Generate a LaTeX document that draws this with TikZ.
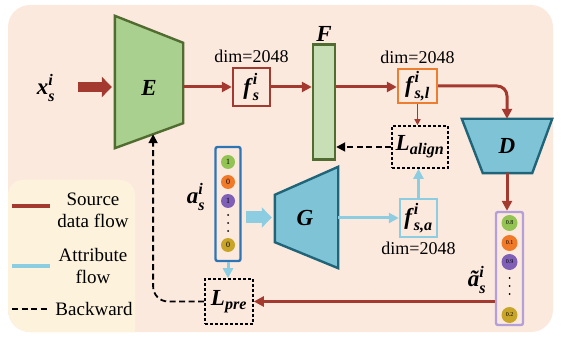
\documentclass[tikz,border=0pt]{standalone}
\usepackage{fontspec}
\setmainfont{Liberation Serif}
\usepackage{amsmath}
\usetikzlibrary{arrows.meta,calc}

\definecolor{srcred}{RGB}{163,57,47}
\definecolor{attblue}{RGB}{140,205,226}
\definecolor{encfill}{RGB}{169,208,142}
\definecolor{encdraw}{RGB}{80,108,48}
\definecolor{ffill}{RGB}{200,222,180}
\definecolor{decfill}{RGB}{126,196,214}
\definecolor{decdraw}{RGB}{31,100,120}
\definecolor{fslorange}{RGB}{237,125,49}
\definecolor{vecblue}{RGB}{46,117,182}
\definecolor{veclila}{RGB}{180,160,216}
\definecolor{bgpeach}{RGB}{252,233,222}
\definecolor{bglegend}{RGB}{253,242,220}
\definecolor{cgreen}{RGB}{146,195,83}
\definecolor{corange}{RGB}{240,122,40}
\definecolor{cpurple}{RGB}{128,96,182}
\definecolor{colive}{RGB}{200,165,40}

\newcommand{\bi}[1]{\textbf{\textit{#1}}}

\begin{document}
\begin{tikzpicture}[x=1pt, y=-1pt,
	big/.style={font=\fontsize{23}{25}\selectfont},
	dimtxt/.style={font=\fontsize{18}{20}\selectfont},
	legtxt/.style={font=\fontsize{19}{22}\selectfont, align=center},
	feat/.style={draw, line width=2.4pt, minimum width=37pt, minimum height=38pt, inner sep=0pt, font=\fontsize{23}{25}\selectfont},
	loss/.style={draw, line width=1.6pt, dash pattern=on 3pt off 2pt, inner sep=0pt, font=\fontsize{23}{25}\selectfont},
	src/.style={draw=srcred, line width=3pt, -{Triangle[length=10pt,width=10pt]}},
	att/.style={draw=attblue, line width=3pt, -{Triangle[length=10pt,width=10pt]}},
	back/.style={draw=black, line width=1.8pt, dash pattern=on 6pt off 3.5pt, -{Triangle[length=9pt,width=9pt]}},
	vec/.style={draw, rounded corners=2pt, line width=2.4pt, inner sep=0pt},
	cir/.style={circle, inner sep=0pt},
	trap/.style={inner sep=0pt}]

	\useasboundingbox (0,0) rectangle (561,344);

	% Fondo y leyenda
	\fill[bgpeach, rounded corners=22pt] (8,5) rectangle (553,332);
	\begin{scope}
		\clip[rounded corners=22pt] (8,5) rectangle (553,332);
		\fill[bglegend, rounded corners=15pt] (8,180) rectangle (135,345);
	\end{scope}

	% Bloques E, F, D, G
	\node[trap, minimum width=68pt, minimum height=132pt] (E) at (149,82) {};
	\draw[encdraw, fill=encfill, line width=2.4pt] (E.north west) -- ([yshift=-27pt]E.north east)
		-- ([yshift=25pt]E.south east) -- (E.south west) -- cycle;
	\node[big] (Elab) at (149,88) {$\bi{E}$};

	\node[draw=encdraw, fill=ffill, line width=2.4pt, minimum width=22pt, minimum height=115pt, inner sep=0pt] (F) at (324,102) {};
	\node[big, above=-2pt] (Flab) at (F.north) {$\bi{F}$};

	\node[trap, minimum width=90pt, minimum height=54pt] (D) at (507,146) {};
	\draw[decdraw, fill=decfill, line width=2.4pt] (D.north west) -- (D.north east)
		-- ([xshift=-20pt]D.south east) -- ([xshift=21pt]D.south west) -- cycle;
	\node[big] (Dlab) at (507,146) {$\bi{D}$};

	\node[trap, minimum width=63pt, minimum height=101pt] (G) at (306.5,217.5) {};
	\draw[decdraw, fill=decfill, line width=2.4pt] ([yshift=-28pt]G.north west) -- (G.north east)
		-- (G.south east) -- ([yshift=26pt]G.south west) -- cycle;
	\node[big] (Glab) at (305,217.5) {$\bi{G}$};

	% Caracteristicas y perdidas
	\node[big] (xs) at (46,88) {$\bi{x}^{\bi{i}}_{\bi{s}}$};
	\coordinate (xin) at (78,87);
	\node[feat, draw=srcred] (fs) at (251.5,87) {$\bi{f}^{\bi{i}}_{\bi{s}}$};
	\node[feat, draw=fslorange, minimum width=39pt, minimum height=34pt] (fsl) at (417.5,86) {$\bi{f}^{\bi{i}}_{\bi{s,l}}$};
	\node[feat, draw=attblue] (fsa) at (418.5,218) {$\bi{f}^{\bi{i}}_{\bi{s,a}}$};
	\node[loss, minimum width=56pt, minimum height=42pt] (Lalign) at (420,147) {$\bi{L}_{\bi{align}}$};
	\node[loss, minimum width=48pt, minimum height=45pt] (Lpre) at (229,301.5) {$\bi{L}_{\bi{pre}}$};

	\node[dimtxt, above=1pt] (dimfs) at (fs.north) {dim=2048};
	\node[dimtxt, above=1pt] (dimfsl) at (fsl.north) {dim=2048};
	\node[dimtxt, below=0pt] (dimfsa) at (fsa.south) {dim=2048};

	% Vectores de atributos
	\node[vec, draw=vecblue, minimum width=25pt, minimum height=114pt] (av) at (228,204) {};
	\foreach \y/\c/\v [count=\k] in {162/cgreen/1, 182/corange/0, 201/cpurple/1, 245/colive/0}
		\node[cir, fill=\c, minimum size=14pt, font=\fontsize{8}{8}\selectfont] (ac\k) at (228,\y) {\v};
	\foreach \y in {215,223,231}
		\fill (228,\y) circle (1pt);
	\node[big] (aslab) at (196,197) {$\bi{a}^{\bi{i}}_{\bi{s}}$};

	\node[vec, draw=veclila, minimum width=27pt, minimum height=113pt] (at) at (509.5,268.5) {};
	\foreach \y/\c/\v [count=\k] in {223/cgreen/0.8, 243/corange/0.1, 262/cpurple/0.9, 315/colive/0.2}
		\node[cir, fill=\c, minimum size=16pt, font=\fontsize{6}{6}\selectfont] (atc\k) at (509.5,\y) {\v};
	\foreach \y in {278,286,294}
		\fill (509.5,\y) circle (1pt);
	\node[big, inner sep=1pt] (atlab) at (477,280) {$\bi{ã}^{\bi{i}}_{\bi{s}}$};

	% Flujo de datos
	\draw[srcred, line width=10pt, -{Triangle[length=10pt,width=20pt]}, shorten >=3pt] (xin) -- (xin -| E.west);
	\draw[src] (E.east |- fs) -- (fs.west);
	\draw[src] (fs.east) -- (fs -| F.west);
	\draw[src] (fs -| F.east) -- (fs -| fsl.west);
	\draw[src, rounded corners=10pt] (fsl.east) -| (D.north);
	\draw[srcred, line width=1.8pt, -{Triangle[length=6pt,width=6pt]}] (fsl.south) -- (fsl.south |- Lalign.north);
	\draw[src] (D.south) -- (D.south |- at.north);
	\draw[src] (at.west |- Lpre) -- (Lpre.east);

	\draw[attblue, line width=12pt, -{Triangle[length=10pt,width=20pt]}] (av.east |- G) ++(4pt,0) -- ([xshift=-3pt]G.west |- G);
	\draw[att] (G.east |- fsa) -- (fsa.west);
	\draw[att] (fsa.north) -- (fsa.north |- Lalign.south);
	\draw[att] (av.south) -- (av.south |- Lpre.north);

	\coordinate (Ebot) at ($(E.south west)!0.56!([yshift=25pt]E.south east)$);
	\draw[back] (Lalign.west) -- (Lalign.west -| F.east);
	\draw[back, rounded corners=15pt] (Lpre.west) -| (Ebot);

	% Leyenda
	\draw[srcred, line width=4pt] (12,206) -- (50,206);
	\node[legtxt] (legsrc) at (93,210) {Source\\data flow};
	\draw[attblue, line width=4pt] (12,266) -- (50,266);
	\node[legtxt] (legatt) at (93,266) {Attribute\\flow};
	\draw[line width=1.8pt, dash pattern=on 6pt off 3.5pt] (12,309) -- (50,309);
	\node[legtxt] (legback) at (94,309) {Backward};

\end{tikzpicture}
\end{document}
